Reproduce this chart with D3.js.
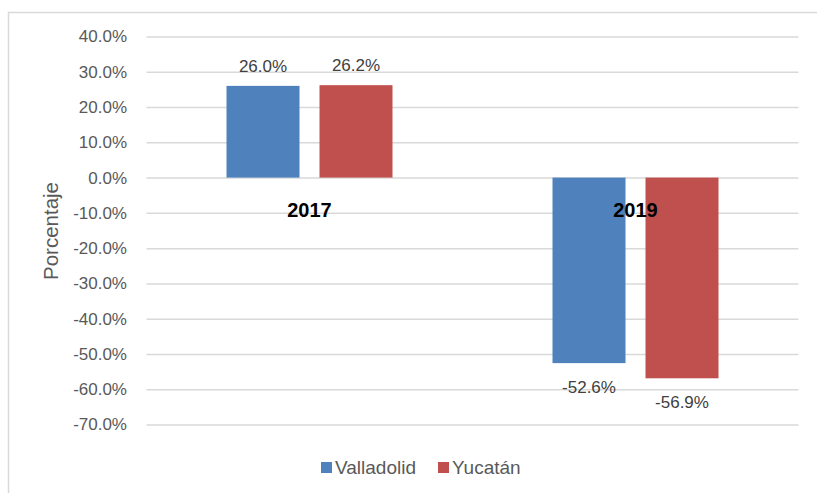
<!DOCTYPE html>
<html>
<head>
<meta charset="utf-8">
<script src="https://cdn.jsdelivr.net/npm/d3@7"></script>
<style>
  body { margin: 0; background: #fff; }
  text { font-family: "Liberation Sans", Arial, sans-serif; }
</style>
</head>
<body>
<div id="chart"></div>
<script>
// data
var years = ["2017", "2019"];
var seriesNames = ["Valladolid", "Yucatán"];
var valladolid = [0.260, -0.526];
var yucatan = [0.262, -0.569];
var tickValues = [0.4, 0.3, 0.2, 0.1, 0, -0.1, -0.2, -0.3, -0.4, -0.5, -0.6, -0.7];
var colors = ["#4F81BD", "#C0504D"];

var width = 817, height = 493;
var plot = {left: 146.5, right: 798.5, top: 36.5, bottom: 424.5};

var svg = d3.select("#chart").append("svg")
  .attr("width", width)
  .attr("height", height);

// chart area frame (only top and left visible in the reference)
svg.append("rect")
  .attr("x", 8.5).attr("y", 12.5)
  .attr("width", 830).attr("height", 500)
  .attr("fill", "none")
  .attr("stroke", "#D9D9D9")
  .attr("stroke-width", 1.5);

var y = d3.scaleLinear()
  .domain([-0.7, 0.4])
  .range([plot.bottom, plot.top]);

var x0 = d3.scaleBand()
  .domain(years)
  .range([plot.left, plot.right])
  .padding(0);

// bars 73px wide with a 20px gap inside each 326px band
var x1 = d3.scaleBand()
  .domain(seriesNames)
  .range([80, 246])
  .paddingInner(20 / 93)
  .paddingOuter(0);

// plain hyphen for negatives, like the original
var fmt = d3.formatLocale({decimal: ".", thousands: ",", grouping: [3], currency: ["$", ""], minus: "-"})
  .format(".1%");

// gridlines + tick labels
var yAxis = d3.axisLeft(y)
  .tickValues(tickValues)
  .tickSize(-(plot.right - plot.left))
  .tickPadding(19.5)
  .tickFormat(fmt);

var ga = svg.append("g")
  .attr("transform", "translate(" + plot.left + ",0)")
  .call(yAxis);
ga.select(".domain").remove();
ga.selectAll(".tick line")
  .attr("stroke", "#D9D9D9")
  .attr("stroke-width", 1.5);
ga.selectAll(".tick text")
  .attr("fill", "#595959")
  .style("font-size", "17px")
  .style("font-family", "'Liberation Sans', Arial, sans-serif");

// bars
var rows = years.map(function (yr, i) {
  return {year: yr, values: [valladolid[i], yucatan[i]]};
});

var groups = svg.selectAll(".yr")
  .data(rows)
  .enter().append("g")
  .attr("class", "yr")
  .attr("transform", function (d) { return "translate(" + x0(d.year) + ",0)"; });

groups.selectAll("rect")
  .data(function (d) {
    return d.values.map(function (v, j) { return {name: seriesNames[j], v: v, j: j}; });
  })
  .enter().append("rect")
  .attr("x", function (d) { return x1(d.name); })
  .attr("y", function (d) { return y(Math.max(0, d.v)); })
  .attr("width", x1.bandwidth())
  .attr("height", function (d) { return Math.abs(y(d.v) - y(0)); })
  .attr("fill", function (d) { return colors[d.j]; });

// value labels
groups.selectAll(".val")
  .data(function (d) {
    return d.values.map(function (v, j) { return {name: seriesNames[j], v: v}; });
  })
  .enter().append("text")
  .attr("class", "val")
  .attr("x", function (d) { return x1(d.name) + x1.bandwidth() / 2; })
  .attr("y", function (d) { return d.v >= 0 ? y(d.v) - 14 : y(d.v) + 30; })
  .attr("text-anchor", "middle")
  .attr("fill", "#404040")
  .style("font-size", "17px")
  .text(function (d) { return fmt(d.v); });

// category labels, drawn over the bars just under the zero line
groups.append("text")
  .attr("x", x0.bandwidth() / 2)
  .attr("y", y(0) + 39)
  .attr("text-anchor", "middle")
  .attr("fill", "#000")
  .style("font-size", "20px")
  .style("font-weight", "bold")
  .text(function (d) { return d.year; });

// y axis title
svg.append("text")
  .attr("transform", "translate(58,231) rotate(-90)")
  .attr("text-anchor", "middle")
  .attr("fill", "#595959")
  .style("font-size", "20.5px")
  .text("Porcentaje");

// legend
var legend = svg.append("g").attr("transform", "translate(321,462)");
var legX = [0, 117];
seriesNames.forEach(function (name, i) {
  var g = legend.append("g").attr("transform", "translate(" + legX[i] + ",0)");
  g.append("rect")
    .attr("width", 11).attr("height", 11)
    .attr("fill", colors[i]);
  g.append("text")
    .attr("x", 14).attr("y", 12)
    .attr("fill", "#595959")
    .style("font-size", "19px")
    .text(name);
});
</script>
</body>
</html>
